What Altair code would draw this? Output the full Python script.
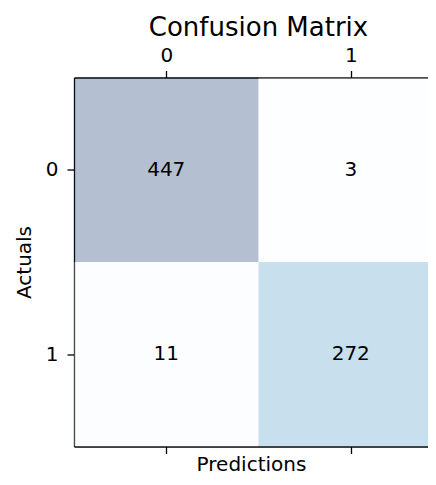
import altair as alt
import pandas as pd

# Confusion matrix values
actuals = [0, 0, 1, 1]
predictions = [0, 1, 0, 1]
counts = [447, 3, 11, 272]
tick_values = [0, 1]

df = pd.DataFrame({"actual": actuals, "predicted": predictions, "count": counts})

W = 354
H = 369
cell = H / 2
x_domain = [-0.5, -0.5 + W / cell]

FONT = "DejaVu Sans"

base = alt.Chart(df).transform_calculate(
    x0="datum.predicted - 0.5",
    x1="datum.predicted + 0.5",
    y0="datum.actual - 0.5",
    y1="datum.actual + 0.5",
)

xscale = alt.Scale(domain=x_domain, nice=False, zero=False)
yscale = alt.Scale(domain=[-0.5, 1.5], nice=False, zero=False, reverse=True)
yaxis = alt.Axis(orient="left", values=tick_values, format="d", title="Actuals",
                 labelPadding=9, titlePadding=11)

rects = base.mark_rect(opacity=0.3, clip=True).encode(
    x=alt.X("x0:Q", scale=xscale,
            axis=alt.Axis(orient="top", values=tick_values, format="d", title=None,
                          labelPadding=5)),
    x2="x1:Q",
    y=alt.Y("y0:Q", scale=yscale, axis=yaxis),
    y2="y1:Q",
    color=alt.Color("count:Q",
                    scale=alt.Scale(domain=[3, 272, 447],
                                    range=["#f7fbff", "#4896c8", "#08306b"]),
                    legend=None),
)

texts = base.mark_text(fontSize=20, font=FONT, color="black").encode(
    x=alt.X("predicted:Q", scale=xscale,
            axis=alt.Axis(orient="bottom", values=tick_values, labels=False,
                          title="Predictions", titlePadding=0.5)),
    y=alt.Y("actual:Q", scale=yscale, axis=yaxis),
    text="count:Q",
)

chart = (
    alt.layer(rects, texts)
    .resolve_axis(x="independent")
    .properties(
        width=W,
        height=H,
        autosize=alt.AutoSizeParams(type="none"),
        padding={"left": 66, "top": 69.5, "right": 0, "bottom": 30.5},
        background="white",
        title=alt.Title("Confusion Matrix", fontSize=26, font=FONT,
                        fontWeight="normal", color="black", dx=7.5, offset=5),
    )
    .configure_view(stroke=None)
    .configure_axis(
        grid=False,
        domainColor="black",
        tickColor="black",
        labelColor="black",
        titleColor="black",
        labelFont=FONT,
        titleFont=FONT,
        labelFontSize=20,
        titleFontSize=20,
        titleFontWeight="normal",
        tickSize=7,
        tickWidth=1.3,
        domainWidth=1.3,
    )
)

chart.save("out.html", embed_options={"renderer": "svg", "actions": False})
